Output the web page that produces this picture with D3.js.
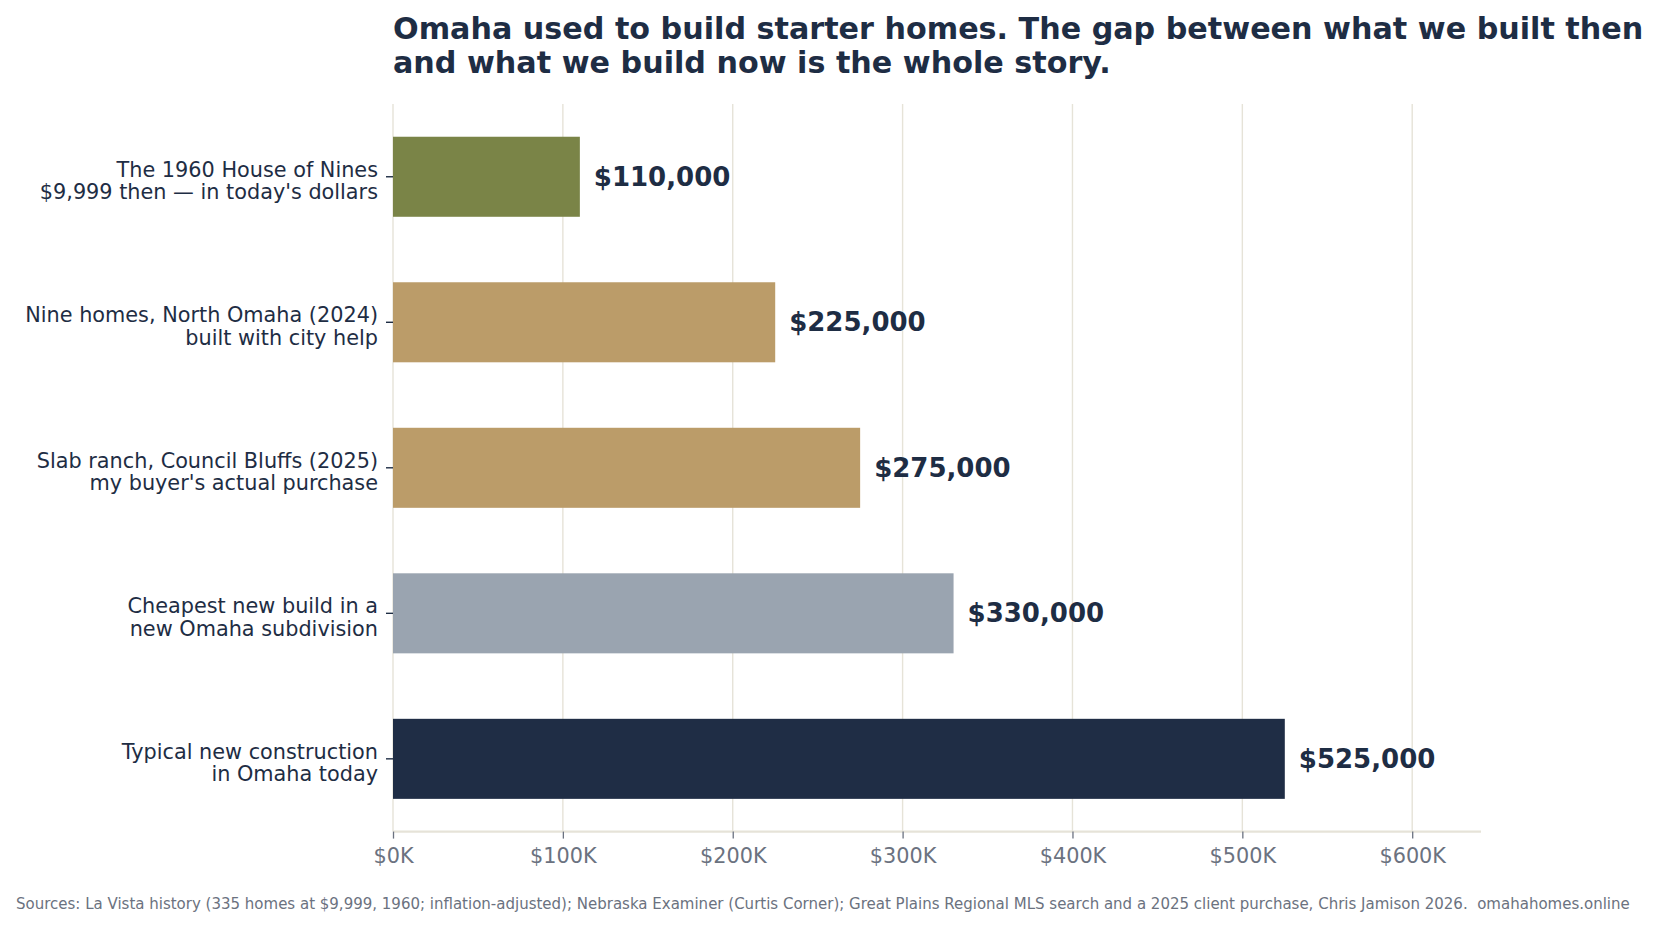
<!DOCTYPE html>
<html><head><meta charset="utf-8">
<script src="https://cdn.jsdelivr.net/npm/d3@7"></script>
<style>
html,body{margin:0;padding:0;background:#fff;}
svg{display:block;font-family:"DejaVu Sans",sans-serif;}
</style></head>
<body><svg id="c" width="1659" height="926"></svg>
<script>
const categories = [
  ["The 1960 House of Nines", "$9,999 then — in today's dollars"],
  ["Nine homes, North Omaha (2024)", "built with city help"],
  ["Slab ranch, Council Bluffs (2025)", "my buyer's actual purchase"],
  ["Cheapest new build in a", "new Omaha subdivision"],
  ["Typical new construction", "in Omaha today"]
];
const values = [110000, 225000, 275000, 330000, 525000];
const barColors = ["#7a8447", "#bb9c69", "#bb9c69", "#9aa4b0", "#1f2d45"];
const xTicks = [0, 100000, 200000, 300000, 400000, 500000, 600000];
const titleLines = [
  "Omaha used to build starter homes. The gap between what we built then",
  "and what we build now is the whole story."
];
const footer = "Sources: La Vista history (335 homes at $9,999, 1960; inflation-adjusted); Nebraska Examiner (Curtis Corner); Great Plains Regional MLS search and a 2025 client purchase, Chris Jamison 2026.  omahahomes.online";

const svg = d3.select("#c");
const M = {left: 393, right: 1481, top: 104, bottom: 831.6};
const navy = "#1e2d44", grey = "#6b7280", grid = "#e6e3d8";

const x = d3.scaleLinear().domain([0, d3.max(values) * 1.22]).range([M.left, M.right]);
const y = d3.scaleBand().domain(d3.range(categories.length)).range([M.top, M.bottom])
  .paddingInner(0.45).paddingOuter(0.225);

// gridlines
svg.append("g").selectAll("line").data(xTicks).join("line")
  .attr("x1", d => x(d)).attr("x2", d => x(d))
  .attr("y1", M.top).attr("y2", M.bottom)
  .attr("stroke", grid).attr("stroke-width", 1.4);

// bars
svg.append("g").selectAll("rect").data(values).join("rect")
  .attr("x", x(0)).attr("y", (d, i) => y(i))
  .attr("width", d => x(d) - x(0)).attr("height", y.bandwidth())
  .attr("fill", (d, i) => barColors[i]);

// value labels
svg.append("g").selectAll("text").data(values).join("text")
  .attr("x", d => x(d) + 14).attr("y", (d, i) => y(i) + y.bandwidth() / 2 + 9)
  .attr("font-size", 26).attr("font-weight", "bold").attr("fill", navy)
  .text(d => "$" + d3.format(",")(d));

// x axis
const xAxis = d3.axisBottom(x).tickValues(xTicks).tickSize(7).tickPadding(8)
  .tickFormat(d => "$" + (d / 1000) + "K");
const gx = svg.append("g").attr("transform", `translate(0,${M.bottom})`).call(xAxis);
gx.select(".domain").attr("stroke", grid).attr("stroke-width", 2.2).attr("d", `M${M.left},0H${M.right}`);
gx.selectAll(".tick line").attr("stroke", grey).attr("stroke-width", 1.3);
gx.selectAll(".tick text").attr("fill", grey).attr("font-size", 20.8)
  .attr("font-family", "DejaVu Sans").attr("dy", null).attr("y", 31.5);

// y axis
const yAxis = d3.axisLeft(y).tickSize(7).tickFormat("");
const gy = svg.append("g").attr("transform", `translate(${M.left},0)`).call(yAxis);
gy.select(".domain").remove();
gy.selectAll(".tick line").attr("stroke", navy).attr("stroke-width", 1.4);
const ylab = svg.append("g").selectAll("text").data(categories).join("text")
  .attr("x", M.left - 15).attr("y", (d, i) => y(i) + y.bandwidth() / 2)
  .attr("text-anchor", "end").attr("font-size", 20.8).attr("fill", navy);
ylab.selectAll("tspan").data(d => d).join("tspan")
  .attr("x", M.left - 15).attr("dy", (d, j) => j === 0 ? 0 : 22.5).text(d => d);

// title
svg.append("g").selectAll("text").data(titleLines).join("text")
  .attr("x", M.left).attr("y", (d, i) => 38.5 + i * 34.5)
  .attr("font-size", 30.2).attr("font-weight", "bold").attr("fill", navy)
  .text(d => d);

// footer
svg.append("text").attr("x", 16).attr("y", 909)
  .attr("font-size", 15).attr("fill", grey).style("white-space", "pre")
  .text(footer);
</script></body></html>
